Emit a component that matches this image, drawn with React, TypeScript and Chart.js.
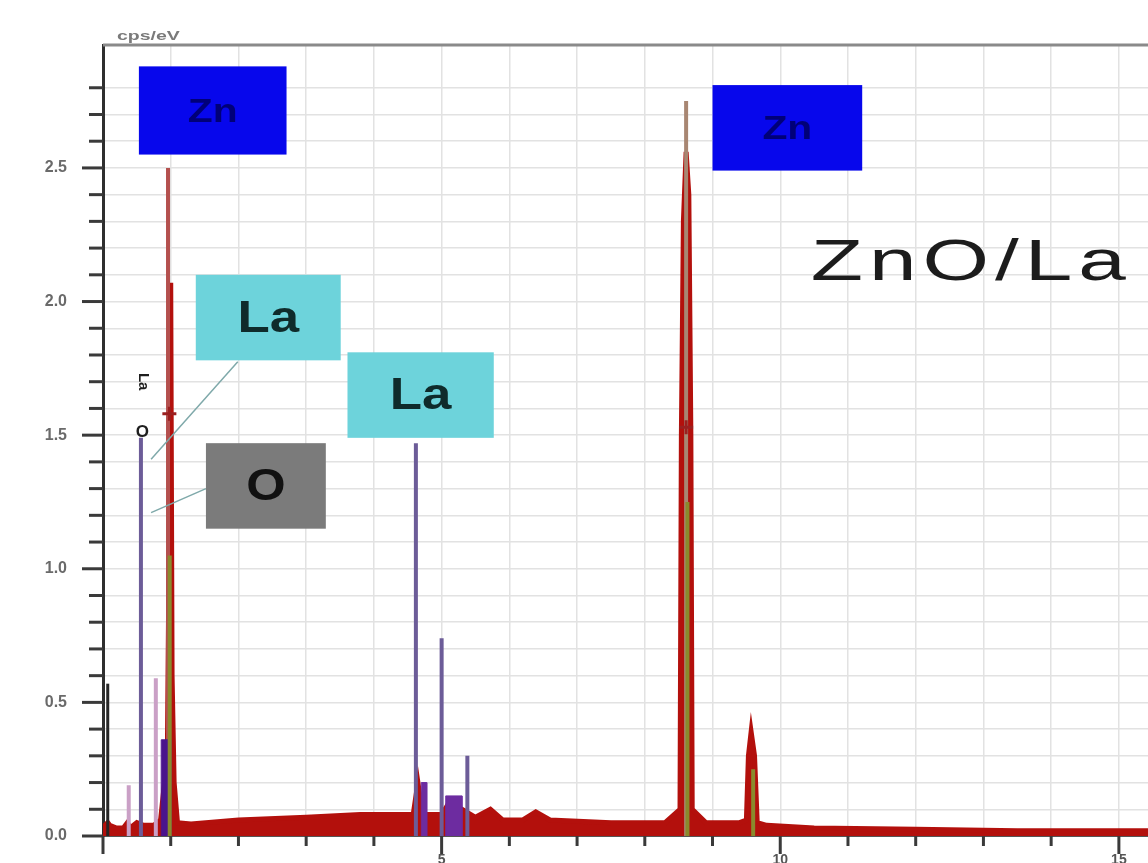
import React, { useEffect, useRef } from 'react';
import { Chart, registerables } from 'chart.js';
Chart.register(...registerables);

// Continuous EDS spectrum (keV, cps/eV)
const spectrumEnergy = [0.0, 0.03, 0.07, 0.1, 0.2, 0.3, 0.36, 0.4, 0.5, 0.6, 0.75, 0.85, 0.95, 0.98, 1.0, 1.02, 1.05, 1.1, 1.3, 2.0, 3.0, 3.8, 4.4, 4.58, 4.65, 4.72, 5.0, 5.1, 5.3, 5.5, 5.72, 5.9, 6.2, 6.39, 6.6, 7.5, 8.3, 8.52, 8.54, 8.57, 8.61, 8.65, 8.68, 8.7, 8.9, 9.4, 9.5, 9.53, 9.57, 9.62, 9.66, 9.8, 10.5, 12.0, 13.5, 15.5];
const spectrumCounts = [0.0, 0.04, 0.05, 0.04, 0.03, 0.03, 0.05, 0.03, 0.05, 0.04, 0.04, 0.06, 0.3, 1.2, 2.07, 0.6, 0.2, 0.05, 0.045, 0.06, 0.07, 0.08, 0.08, 0.08, 0.2, 0.08, 0.08, 0.12, 0.1, 0.07, 0.1, 0.06, 0.06, 0.09, 0.06, 0.05, 0.05, 0.1, 1.5, 2.3, 2.56, 2.4, 1.5, 0.1, 0.05, 0.05, 0.06, 0.3, 0.39, 0.3, 0.05, 0.04, 0.03, 0.025, 0.02, 0.02];

// Element marker lines (keV / cps/eV)
const purpleLineEnergy = [0.56, 4.62, 5.0, 5.38];
const purpleLineHeight = [1.49, 1.47, 0.74, 0.3];
const roseLineEnergy = [0.96];
const roseLineHeight = [2.5];
const tanLineEnergy = [8.61];
const tanLineHeight = [2.75];
const oliveLineEnergy = [0.985, 8.63, 9.6];
const oliveLineHeight = [1.05, 1.25, 0.25];
const pinkLineEnergy = [0.38, 0.78];
const pinkLineHeight = [0.19, 0.59];
const blackLineEnergy = [0.07];
const blackLineHeight = [0.57];

// Filled blocks (start keV, end keV, height)
const blockStart = [0.86, 4.7, 5.06];
const blockEnd = [1.0, 4.78, 5.3];
const blockHeight = [0.36, 0.2, 0.15];

// KLM markers
const markerEnergy = [0.98, 8.61];
const markerHeight = [1.58, 1.53];

const xTickStep = 1;
const yTickStep = 0.1;

const spikes = (xs: number[], hs: number[]) =>
  xs.flatMap((x, i) => [{ x, y: 0 }, { x, y: hs[i] }, { x, y: null as any }]);

const annotations = [
  { text: 'Zn', x0: 0.53, x1: 2.71, y0: 2.88, y1: 2.55, bg: '#0707ec', fg: '#000078', font: 'bold 34px "Liberation Sans"', sx: 1.2 },
  { text: 'Zn', x0: 9.0, x1: 11.21, y0: 2.81, y1: 2.49, bg: '#0707ec', fg: '#000078', font: 'bold 34px "Liberation Sans"', sx: 1.2 },
  { text: 'La', x0: 1.37, x1: 3.51, y0: 2.1, y1: 1.78, bg: '#6dd3db', fg: '#0f2b2b', font: 'bold 44px "Liberation Sans"', sx: 1.2 },
  { text: 'La', x0: 3.61, x1: 5.77, y0: 1.81, y1: 1.49, bg: '#6dd3db', fg: '#0f2b2b', font: 'bold 44px "Liberation Sans"', sx: 1.2 },
  { text: 'O', x0: 1.52, x1: 3.29, y0: 1.47, y1: 1.15, bg: '#7b7b7b', fg: '#111111', font: 'bold 44px "Liberation Sans"', sx: 1.15 },
];

const leaders = [
  { x0: 1.99, y0: 1.775, x1: 0.71, y1: 1.41 },
  { x0: 1.52, y0: 1.3, x1: 0.71, y1: 1.21 },
];

const zeroPad = (s: any) => {
  s.paddingTop = 0;
  s.paddingBottom = 0;
  s.paddingLeft = 0;
  s.paddingRight = 0;
};

const decoPlugin = {
  id: 'deco',
  afterDraw(chart: any) {
    const { ctx, chartArea, scales } = chart;
    const xs = scales.x;
    const ys = scales.y;
    ctx.save();
    // top border
    ctx.strokeStyle = '#8a8a8a';
    ctx.lineWidth = 3;
    ctx.beginPath();
    ctx.moveTo(chartArea.left, chartArea.top);
    ctx.lineTo(chartArea.right, chartArea.top);
    ctx.stroke();
    // y ticks
    ctx.strokeStyle = '#3a3a3a';
    ctx.lineWidth = 3;
    ys.ticks.forEach((t: any) => {
      const v = t.value;
      if (Math.abs(v * 10 - Math.round(v * 10)) > 1e-6) return;
      const major = Math.abs(v * 2 - Math.round(v * 2)) < 1e-6;
      const py = ys.getPixelForValue(v);
      ctx.beginPath();
      ctx.moveTo(chartArea.left - (major ? 21 : 14), py);
      ctx.lineTo(chartArea.left, py);
      ctx.stroke();
    });
    // x ticks
    xs.ticks.forEach((t: any) => {
      const v = t.value;
      if (Math.abs(v - Math.round(v)) > 1e-6) return;
      const major = Math.round(v) % 5 === 0;
      const px = xs.getPixelForValue(v);
      ctx.beginPath();
      ctx.moveTo(px, chartArea.bottom);
      ctx.lineTo(px, chartArea.bottom + (major ? 18 : 10));
      ctx.stroke();
    });
    // axis unit label
    ctx.save();
    ctx.fillStyle = '#7a7a7a';
    ctx.font = 'bold 13px "Liberation Sans"';
    ctx.textBaseline = 'bottom';
    ctx.translate(chartArea.left + 14, chartArea.top - 2);
    ctx.scale(1.5, 1);
    ctx.fillText('cps/eV', 0, 0);
    ctx.restore();

    // leader lines
    ctx.strokeStyle = '#7fa9aa';
    ctx.lineWidth = 1.5;
    leaders.forEach((l) => {
      ctx.beginPath();
      ctx.moveTo(xs.getPixelForValue(l.x0), ys.getPixelForValue(l.y0));
      ctx.lineTo(xs.getPixelForValue(l.x1), ys.getPixelForValue(l.y1));
      ctx.stroke();
    });

    // boxes
    annotations.forEach((a) => {
      const l = xs.getPixelForValue(a.x0);
      const r = xs.getPixelForValue(a.x1);
      const t = ys.getPixelForValue(a.y0);
      const b = ys.getPixelForValue(a.y1);
      ctx.fillStyle = a.bg;
      ctx.fillRect(l, t, r - l, b - t);
      ctx.save();
      ctx.translate((l + r) / 2, (t + b) / 2 + 2);
      ctx.scale(a.sx, 1);
      ctx.fillStyle = a.fg;
      ctx.font = a.font;
      ctx.textAlign = 'center';
      ctx.textBaseline = 'middle';
      ctx.fillText(a.text, 0, 0);
      ctx.restore();
    });

    // small element tags near O peak
    ctx.fillStyle = '#1e1e1e';
    ctx.save();
    ctx.translate(xs.getPixelForValue(0.6), ys.getPixelForValue(1.7));
    ctx.rotate(Math.PI / 2);
    ctx.font = 'bold 15px "Liberation Sans"';
    ctx.textAlign = 'center';
    ctx.textBaseline = 'middle';
    ctx.fillText('La', 0, 0);
    ctx.restore();
    ctx.font = 'bold 17px "Liberation Sans"';
    ctx.textAlign = 'center';
    ctx.textBaseline = 'middle';
    ctx.fillText('O', xs.getPixelForValue(0.58), ys.getPixelForValue(1.51));

    // title text
    ctx.save();
    ctx.translate(xs.getPixelForValue(10.45), ys.getPixelForValue(2.08));
    ctx.scale(1.5, 1);
    ctx.fillStyle = '#1c1c1c';
    ctx.font = '57px "Liberation Sans"';
    (ctx as any).letterSpacing = '4px';
    ctx.textAlign = 'left';
    ctx.textBaseline = 'alphabetic';
    ctx.fillText('ZnO/La', 0, 0);
    ctx.restore();
    ctx.restore();
  },
};

export default function App() {
  const ref = useRef<HTMLCanvasElement>(null);
  useEffect(() => {
    if (!ref.current) return;
    const spikeSet = (label: string, xs: number[], hs: number[], color: string, width: number, order: number) => ({
      type: 'line' as const,
      label,
      data: spikes(xs, hs),
      borderColor: color,
      borderWidth: width,
      pointRadius: 0,
      spanGaps: false,
      fill: false,
      order,
    });
    const blocks = blockStart.map((s, i) => ({
      type: 'line' as const,
      label: 'block' + i,
      data: [
        { x: s, y: 0 },
        { x: s, y: blockHeight[i] },
        { x: blockEnd[i], y: blockHeight[i] },
        { x: blockEnd[i], y: 0 },
      ],
      borderColor: i === 0 ? '#4a148c' : '#6d2ca0',
      backgroundColor: i === 0 ? '#4a148c' : '#6d2ca0',
      borderWidth: 1,
      pointRadius: 0,
      fill: 'origin',
      order: 2,
    }));
    const chart = new Chart(ref.current, {
      type: 'line',
      data: {
        datasets: [
          {
            label: 'spectrum',
            data: spectrumEnergy.map((x, i) => ({ x, y: spectrumCounts[i] })),
            borderColor: '#b3100c',
            backgroundColor: '#b3100c',
            borderWidth: 5,
            pointRadius: 0,
            fill: 'origin',
            tension: 0,
            order: 6,
          } as any,
          ...blocks,
          spikeSet('O/La', purpleLineEnergy, purpleLineHeight, '#6c5c98', 4, 1),
          spikeSet('ZnL', roseLineEnergy, roseLineHeight, '#b4504e', 4, 3),
          spikeSet('ZnKa', tanLineEnergy, tanLineHeight, '#a88672', 4, 3),
          spikeSet('olive', oliveLineEnergy, oliveLineHeight, '#8a8a2c', 4, 1),
          spikeSet('pink', pinkLineEnergy, pinkLineHeight, '#caa0c6', 4, 1),
          spikeSet('black', blackLineEnergy, blackLineHeight, '#262626', 3, 1),
          {
            type: 'scatter',
            label: 'markers',
            data: markerEnergy.map((x, i) => ({ x, y: markerHeight[i] })),
            pointStyle: 'cross',
            pointRadius: 7,
            borderColor: '#9a2020',
            borderWidth: 3,
            showLine: false,
            order: 0,
          } as any,
        ],
      },
      options: {
        animation: false,
        responsive: false,
        devicePixelRatio: 1,
        layout: { autoPadding: false, padding: { top: 45, right: 0, left: 0, bottom: 0 } },
        plugins: { legend: { display: false }, tooltip: { enabled: false } },
        scales: {
          x: {
            type: 'linear',
            min: 0,
            max: 15.43,
            afterFit: (s: any) => { s.height = 27; zeroPad(s); },
            grid: { color: '#e2e2e2', lineWidth: 1.5, drawTicks: false },
            border: { display: true, color: '#555', width: 2 },
            ticks: {
              stepSize: xTickStep,
              includeBounds: false,
              autoSkip: false,
              maxRotation: 0,
              padding: 16,
              color: '#555',
              font: { family: '"Liberation Sans"', size: 14, weight: 'bold' },
              callback: (v: any) => (v > 0 && Math.abs(v % 5) < 1e-6 ? String(v) : ''),
            },
          },
          y: {
            type: 'linear',
            min: 0,
            max: 2.96,
            afterFit: (s: any) => { s.width = 103; zeroPad(s); },
            grid: { color: '#e2e2e2', lineWidth: 1.5, drawTicks: false },
            border: { display: true, color: '#2e2e2e', width: 3 },
            ticks: {
              stepSize: yTickStep,
              autoSkip: false,
              padding: 36,
              color: '#6a6a6a',
              font: { family: '"Liberation Sans"', size: 16, weight: 'bold' },
              callback: (v: any) => {
                const n = Number(v);
                return Math.abs(n * 2 - Math.round(n * 2)) < 1e-6 ? n.toFixed(1) : '';
              },
            },
          },
        },
      },
      plugins: [decoPlugin],
    } as any);
    return () => chart.destroy();
  }, []);
  return (
    <div style={{ position: 'fixed', left: 0, top: 0, width: 1148, height: 863, background: '#fff' }}>
      <canvas ref={ref} width={1148} height={863} style={{ display: 'block', width: 1148, height: 863 }} />
    </div>
  );
}
